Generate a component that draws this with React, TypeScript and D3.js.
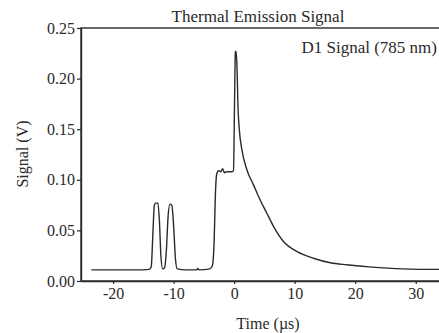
import React, { useEffect, useRef } from 'react';
import * as d3 from 'd3';

// trace (time in µs, signal in V)
const time = [
  -23.6, -20, -16, -14, -13.7, -13.4, -13.2, -13.0, -12.6, -12.35, -12.1, -11.8, -11.5,
  -11.2, -10.9, -10.6, -10.3, -10.0, -9.7, -9.4, -8, -6.2, -6.0, -5.8, -4, -3.6, -3.3,
  -3.1, -2.9, -2.6, -2.2, -1.9, -1.6, -1.2, -0.5, -0.1, 0.05, 0.2, 0.3, 0.45, 0.65,
  0.85, 1.27, 2.1, 3.2, 4.3, 5.4, 6.5, 8.15, 10.4, 13.1, 15.9, 18.6, 22.3, 27.8, 33.4, 35,
];
const signal = [
  0.011, 0.011, 0.011, 0.0115, 0.014, 0.05, 0.074, 0.077, 0.077, 0.06, 0.025, 0.012, 0.013,
  0.03, 0.065, 0.076, 0.075, 0.055, 0.022, 0.012, 0.011, 0.011, 0.0125, 0.011, 0.012, 0.015, 0.04,
  0.085, 0.105, 0.109, 0.108, 0.111, 0.107, 0.108, 0.108, 0.109, 0.17, 0.226, 0.227, 0.215, 0.17,
  0.15, 0.13, 0.11, 0.095, 0.080, 0.067, 0.054, 0.039, 0.029, 0.0225, 0.018, 0.016, 0.014, 0.012, 0.0115, 0.0115,
];
const xTicks = [-20, -10, 0, 10, 20, 30];
const yTicks = [0, 0.05, 0.1, 0.15, 0.2, 0.25];

const W = 439;
const H = 333;
const ink = '#2a2a2a';
const font = '"Liberation Serif", "DejaVu Serif", serif';

function drawChart(node: SVGSVGElement) {
  const svg = d3.select(node);
  svg.selectAll('*').remove();

  const x = d3.scaleLinear().domain([-25.3, 35]).range([81, 446]);
  const y = d3.scaleLinear().domain([0, 0.25]).range([281, 28]);

  const pts = time.map((t, i) => [t, signal[i]] as [number, number]);

  // frame
  svg.append('rect')
    .attr('x', x.range()[0])
    .attr('y', y.range()[1])
    .attr('width', x.range()[1] - x.range()[0])
    .attr('height', y.range()[0] - y.range()[1])
    .attr('fill', 'none')
    .attr('stroke', ink)
    .attr('stroke-width', 1.4);

  svg.append('path')
    .datum(pts)
    .attr('fill', 'none')
    .attr('stroke', ink)
    .attr('stroke-width', 1.4)
    .attr('stroke-linejoin', 'round')
    .attr('d', d3.line().x(d => x(d[0])).y(d => y(d[1])).curve(d3.curveMonotoneX));

  // X-Axis (plain hyphen for negatives, as in the original)
  const gx = svg.append('g')
    .attr('transform', `translate(0,${y(0)})`)
    .call(d3.axisBottom(x).tickValues(xTicks).tickSize(3).tickSizeOuter(0).tickPadding(4)
      .tickFormat(d => String(d)));

  // Y-Axis
  const gy = svg.append('g')
    .attr('transform', `translate(${x(-25.3)},0)`)
    .call(d3.axisLeft(y).tickValues(yTicks).tickSize(4).tickSizeOuter(0).tickPadding(2).tickFormat(d3.format('.2f')));

  [gx, gy].forEach(g => {
    g.select('.domain').attr('stroke', ink).attr('stroke-width', 1.4);
    g.selectAll('.tick line').attr('stroke', ink).attr('stroke-width', 1.2);
    g.selectAll('.tick text')
      .attr('fill', ink)
      .style('font-family', font)
      .style('font-size', '16px');
  });

  svg.append('text')
    .attr('x', 258)
    .attr('y', 22)
    .attr('text-anchor', 'middle')
    .attr('fill', ink)
    .style('font-family', font)
    .style('font-size', '17px')
    .text('Thermal Emission Signal');

  svg.append('text')
    .attr('x', 437)
    .attr('y', 53)
    .attr('text-anchor', 'end')
    .attr('fill', ink)
    .style('font-family', font)
    .style('font-size', '17px')
    .text('D1 Signal (785 nm)');

  svg.append('text')
    .attr('x', 268)
    .attr('y', 329)
    .attr('text-anchor', 'middle')
    .attr('fill', ink)
    .style('font-family', font)
    .style('font-size', '16px')
    .text('Time (µs)');

  svg.append('text')
    .attr('transform', 'rotate(-90)')
    .attr('x', -154)
    .attr('y', 28)
    .attr('text-anchor', 'middle')
    .attr('fill', ink)
    .style('font-family', font)
    .style('font-size', '16px')
    .text('Signal (V)');
}

const App = () => {
  const ref = useRef<SVGSVGElement>(null);
  useEffect(() => {
    if (ref.current) drawChart(ref.current);
  }, []);

  return (
    <div style={{ position: 'absolute', left: 0, top: 0, width: W, height: H, background: '#fff' }}>
      <svg ref={ref} width={W} height={H} style={{ display: 'block' }}></svg>
    </div>
  );
};

export default App;
